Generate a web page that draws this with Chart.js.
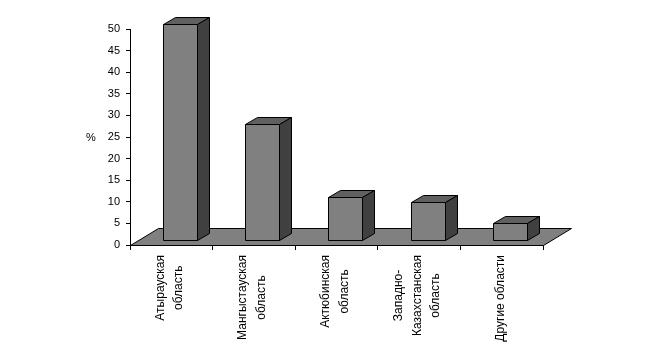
<!DOCTYPE html>
<html>
<head>
<meta charset="utf-8">
<script src="https://cdn.jsdelivr.net/npm/chart.js@4/dist/chart.umd.min.js"></script>
<style>
  html, body { margin: 0; padding: 0; background: #fff; }
  #wrap { width: 651px; height: 351px; }
</style>
</head>
<body>
<div id="wrap"><canvas id="myChart" width="651" height="351"></canvas></div>
<script>
// data
const regions = [
  ['Атырауская', 'область'],
  ['Мангыстауская', 'область'],
  ['Актюбинская', 'область'],
  ['Западно-', 'Казахстанская', 'область'],
  ['Другие области']
];
const shares = [50, 26.8, 9.9, 8.7, 4.0];
const yMin = 0, yMax = 50, yStep = 5;
const yUnit = '%';

const FONT = '"Liberation Sans", Arial, sans-serif';

// 3d look: floor depth, bar depth
const floorDepth = { dx: 28, dy: -17 };
const barFront = { dx: -8.5, dy: -5 };
const barDepth = { dx: 12, dy: -7 };
const barWidth = 34;

function poly(ctx, pts, fill) {
  ctx.beginPath();
  ctx.moveTo(pts[0][0], pts[0][1]);
  for (let i = 1; i < pts.length; i++) ctx.lineTo(pts[i][0], pts[i][1]);
  ctx.closePath();
  ctx.fillStyle = fill;
  ctx.fill();
  ctx.stroke();
}

const fake3d = {
  id: 'fake3d',
  beforeDatasetsDraw(chart) {
    const ctx = chart.ctx;
    const x = chart.scales.x, y = chart.scales.y;
    const y0 = y.getPixelForValue(0) + 0.5;
    const l = x.left + 0.5, r = x.right + 0.5;
    ctx.save();
    ctx.strokeStyle = '#000';
    ctx.lineWidth = 1;
    // floor
    poly(ctx, [[l, y0], [r, y0], [r + floorDepth.dx, y0 + floorDepth.dy], [l + floorDepth.dx, y0 + floorDepth.dy]], '#808080');

    // bars
    shares.forEach((v, i) => {
      const c = x.getPixelForValue(i);
      const fx0 = Math.round(c + barFront.dx) + 0.5;
      const fx1 = fx0 + barWidth;
      const fy0 = Math.round(y.getPixelForValue(v) + barFront.dy) + 0.5;
      const fy1 = y0 + barFront.dy;
      const dx = barDepth.dx, dy = barDepth.dy;
      poly(ctx, [[fx0, fy0], [fx1, fy0], [fx1 + dx, fy0 + dy], [fx0 + dx, fy0 + dy]], '#606060');
      poly(ctx, [[fx1, fy0], [fx1 + dx, fy0 + dy], [fx1 + dx, fy1 + dy], [fx1, fy1]], '#404040');
      poly(ctx, [[fx0, fy0], [fx1, fy0], [fx1, fy1], [fx0, fy1]], '#808080');
    });
    ctx.restore();
  },
  afterDraw(chart) {
    const ctx = chart.ctx;
    const x = chart.scales.x, y = chart.scales.y;
    ctx.save();
    ctx.fillStyle = '#000';
    // unit label
    ctx.font = '11px ' + FONT;
    ctx.textAlign = 'center';
    ctx.textBaseline = 'middle';
    ctx.fillText(yUnit, 91, (y.top + y.bottom) / 2 + 0.5);

    // rotated category labels, lines centred on the longest one
    ctx.font = '12px ' + FONT;
    ctx.textBaseline = 'alphabetic';
    const top = y.getPixelForValue(0) + 10;
    const lh = 18.5;
    regions.forEach((lines, i) => {
      const c = x.getPixelForValue(i) - 2.5;
      const maxW = Math.max(...lines.map(t => ctx.measureText(t).width));
      lines.forEach((t, j) => {
        const capMid = c + (j - (lines.length - 1) / 2) * lh;
        ctx.save();
        ctx.translate(capMid + 4.3, top + maxW / 2);
        ctx.rotate(-Math.PI / 2);
        ctx.fillText(t, 0, 0);
        ctx.restore();
      });
    });
    ctx.restore();
  }
};

const ctx = document.getElementById('myChart').getContext('2d');
const myChart = new Chart(ctx, {
  type: 'bar',
  data: {
    labels: regions,
    datasets: [{
      data: shares,
      backgroundColor: 'rgba(0,0,0,0)',
      borderWidth: 0
    }]
  },
  options: {
    responsive: false,
    animation: false,
    events: [],
    layout: { padding: { top: 29, right: 108, bottom: 0, left: 0 } },
    plugins: { legend: { display: false }, tooltip: { enabled: false } },
    scales: {
      x: {
        grid: { display: true, drawOnChartArea: false, drawTicks: true, tickLength: 5, color: '#000', offset: true },
        border: { display: true, color: '#000' },
        ticks: { display: false },
        afterFit: s => { s.height = 106; }
      },
      y: {
        min: yMin,
        max: yMax,
        grid: { drawOnChartArea: false, drawTicks: true, tickLength: 4, color: '#000' },
        border: { display: true, color: '#000' },
        ticks: { stepSize: yStep, padding: 6, color: '#000', font: { family: FONT, size: 11 } },
        afterFit: s => { s.width = 130; }
      }
    }
  },
  plugins: [fake3d]
});
</script>
</body>
</html>
